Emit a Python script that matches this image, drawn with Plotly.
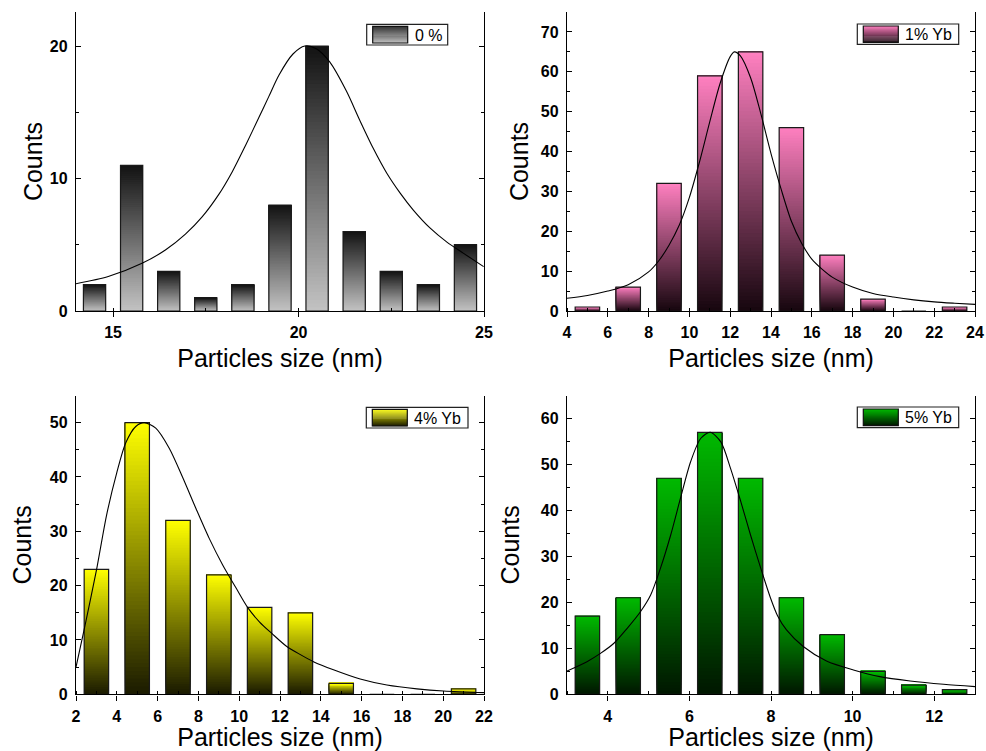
import plotly.graph_objects as go

W, H = 986, 751
FONT = "Arial, Liberation Sans, sans-serif"

# ---------------- data ----------------
labels = ["0 %", "1% Yb", "4% Yb", "5% Yb"]

size_0 = [14.5, 15.5, 16.5, 17.5, 18.5, 19.5, 20.5, 21.5, 22.5, 23.5, 24.5]
counts_0 = [2, 11, 3, 1, 2, 8, 20, 6, 3, 2, 5]
fit_x_0 = [13.97, 14.87, 15.78, 16.41, 16.95, 17.4, 17.85, 18.21, 18.57, 18.93, 19.2, 19.47,
           19.85, 20.17, 20.48, 20.84, 21.29, 21.65, 22.01, 22.38, 22.74, 23.1, 23.55, 24.0,
           24.45, 24.99]
fit_y_0 = [2.04, 2.6, 3.6, 4.6, 5.8, 7.1, 8.8, 10.5, 12.5, 14.6, 16.2, 17.8,
           19.4, 20.0, 19.8, 18.8, 16.6, 14.4, 12.3, 10.4, 8.9, 7.6, 6.25, 5.2,
           4.35, 3.35]

size_1 = [5, 7, 9, 11, 13, 15, 17, 19, 21, 23]
counts_1 = [1, 6, 32, 59, 65, 46, 14, 3, 0, 1]
fit_x_1 = [4.0, 5.0, 6.0, 7.0, 8.0, 8.5, 9.0, 9.5, 10.0, 10.5, 11.0, 11.5, 12.0, 12.2,
           12.5, 13.0, 13.5, 14.0, 14.5, 15.0, 15.5, 16.0, 16.5, 17.0, 18.0, 19.0,
           20.0, 21.0, 22.0, 23.0, 24.0]
fit_y_1 = [3.2, 3.9, 5.0, 6.6, 9.8, 12.6, 16.5, 21.5, 28.5, 37.5, 47.5, 57.0, 63.8, 65.0,
           64.0, 58.5, 49.5, 39.5, 30.5, 22.5, 17.0, 13.0, 10.5, 8.5, 6.0, 4.4,
           3.5, 2.8, 2.3, 1.95, 1.65]

size_4 = [3, 5, 7, 9, 11, 13, 15, 17, 19, 21]
counts_4 = [23, 50, 32, 22, 16, 15, 2, 0, 0, 1]
fit_x_4 = [2.0, 2.41, 3.0, 3.5, 4.0, 4.44, 4.93, 5.34, 5.91, 6.57, 7.22, 7.88, 8.53, 9.19,
           9.84, 10.41, 11.0, 11.6, 12.3, 13.0, 13.64, 14.62, 15.93, 17.24, 18.71, 20.02, 22.0]
fit_y_4 = [5.0, 12.1, 22.8, 33.0, 40.8, 46.3, 49.3, 50.0, 49.0, 45.3, 40.0, 34.2, 28.7, 23.8,
           19.6, 16.0, 13.3, 11.2, 8.9, 7.3, 6.0, 4.5, 2.8, 1.7, 1.0, 0.6, 0.3]

size_5 = [3.5, 4.5, 5.5, 6.5, 7.5, 8.5, 9.5, 10.5, 11.5, 12.5]
counts_5 = [17, 21, 47, 57, 47, 21, 13, 5, 2, 1]
fit_x_5 = [3.0, 3.49, 3.82, 4.15, 4.47, 4.8, 5.05, 5.29, 5.54, 5.78, 6.03, 6.28, 6.51, 6.77,
           7.01, 7.26, 7.5, 7.75, 7.99, 8.16, 8.38, 8.79, 9.36, 10.02, 10.67, 11.41, 12.23, 13.0]
fit_y_5 = [5.07, 7.1, 8.9, 11.1, 14.3, 17.96, 21.6, 27.4, 34.6, 42.6, 50.6, 55.7, 57.0, 54.9,
           49.1, 41.9, 34.6, 27.4, 20.9, 17.1, 14.0, 10.4, 7.25, 5.3, 3.84, 2.9, 2.17, 1.67]

# ---------------- styles ----------------
panels = [
    dict(sizes=size_0, counts=counts_0, fx=fit_x_0, fy=fit_y_0, label=labels[0],
         width=0.6, xr=[14, 25], yr=[0, 22.57], xt0=15, xd=5, xminor=2.5, yd=10, yminor=5,
         top=(18, 18, 18), bot=(195, 195, 195),
         box=(76, 484, 12, 311), leg=(366.7, 447.7, 24.3, 45.0), ystand=0),
    dict(sizes=size_1, counts=counts_1, fx=fit_x_1, fy=fit_y_1, label=labels[1],
         width=1.2, xr=[4, 24], yr=[0, 75], xt0=4, xd=2, xminor=1, yd=10, yminor=5,
         top=(255, 128, 192), bot=(22, 6, 14),
         box=(567, 975, 12, 311), leg=(857.3, 958.7, 24.0, 44.3), ystand=5),
    dict(sizes=size_4, counts=counts_4, fx=fit_x_4, fy=fit_y_4, label=labels[2],
         width=1.2, xr=[2, 22], yr=[0, 55], xt0=2, xd=2, xminor=1, yd=10, yminor=5,
         top=(255, 255, 0), bot=(26, 26, 0),
         box=(76, 484, 395.5, 694.3), leg=(366.3, 468.0, 407.3, 428.0), ystand=11),
    dict(sizes=size_5, counts=counts_5, fx=fit_x_5, fy=fit_y_5, label=labels[3],
         width=0.6, xr=[3, 13], yr=[0, 65], xt0=4, xd=2, xminor=1, yd=10, yminor=5,
         top=(0, 186, 0), bot=(0, 22, 0),
         box=(567, 975, 395.5, 694.3), leg=(857.3, 958.7, 407.0, 427.7), ystand=14),
]


def mix(top, bot, f):
    return "rgb({},{},{})".format(*[round(b + (t - b) * f) for t, b in zip(top, bot)])


def px(x):
    return x / W


def py(y):
    return 1 - y / H


fig = go.Figure()
layout = dict(
    width=W, height=H, margin=dict(l=0, r=0, t=0, b=0, autoexpand=False),
    paper_bgcolor="white", plot_bgcolor="white", showlegend=False,
    barmode="overlay", font=dict(family=FONT, color="black"),
)
shapes, annotations = [], []
NSEG = 70

for i, p in enumerate(panels):
    n = "" if i == 0 else str(i + 1)
    xa, ya = "x" + n, "y" + n

    # gradient fill built from stacked bar segments
    xs, bases, ys, cols = [], [], [], []
    for k in range(NSEG):
        f = (k + 0.5) / NSEG
        c = mix(p["top"], p["bot"], f)
        for s, v in zip(p["sizes"], p["counts"]):
            xs.append(s)
            bases.append(v * k / NSEG)
            ys.append(v * (1 - k / NSEG))
            cols.append(c)
    fig.add_trace(go.Bar(x=xs, y=ys, base=bases, width=p["width"],
                         marker=dict(color=cols, line=dict(width=0)),
                         xaxis=xa, yaxis=ya, hoverinfo="skip", showlegend=False))
    # bar outlines
    fig.add_trace(go.Bar(x=p["sizes"], y=p["counts"], width=p["width"], name=p["label"],
                         marker=dict(color="rgba(0,0,0,0)", line=dict(color="#1a1a1a", width=1.2)),
                         xaxis=xa, yaxis=ya, showlegend=False))
    # fit curve
    fig.add_trace(go.Scatter(x=p["fx"], y=p["fy"], mode="lines",
                             line=dict(color="black", width=1.1, shape="spline", smoothing=0.8),
                             xaxis=xa, yaxis=ya, showlegend=False, hoverinfo="skip"))

    x0, x1, y0, y1 = p["box"]
    tickfont = dict(family=FONT, size=16, color="black", weight="bold")
    layout["xaxis" + n] = dict(
        domain=[px(x0), px(x1)], anchor=ya, range=p["xr"], tick0=p["xt0"], dtick=p["xd"],
        ticks="outside", ticklen=5, tickwidth=1.3, tickcolor="black", automargin=False,
        showline=True, linecolor="black", linewidth=1.4, mirror=False,
        showgrid=False, zeroline=False, tickfont=tickfont, ticklabelstandoff=2,
        minor=dict(tick0=p["xt0"], dtick=p["xminor"], ticks="inside", ticklen=3,
                   tickwidth=1, tickcolor="black", showgrid=False),
        title=dict(text="Particles size (nm)", standoff=9,
                   font=dict(family=FONT, size=25, color="black")),
    )
    layout["yaxis" + n] = dict(
        domain=[py(y1), py(y0)], anchor=xa, range=p["yr"], tick0=0, dtick=p["yd"],
        ticks="inside", ticklen=5, tickwidth=1.3, tickcolor="black", automargin=False,
        showline=True, linecolor="black", linewidth=1.4, mirror="allticks",
        showgrid=False, zeroline=False, tickfont=tickfont, ticklabelstandoff=4,
        minor=dict(tick0=0, dtick=p["yminor"], ticks="inside", ticklen=3,
                   tickwidth=1, tickcolor="black", showgrid=False),
        title=dict(text="Counts", standoff=p["ystand"],
                   font=dict(family=FONT, size=25, color="black")),
    )
    # top axis with inward ticks
    layout["xaxis" + str(i + 5)] = dict(
        overlaying=xa, anchor=ya, side="top", range=p["xr"], tick0=p["xt0"], dtick=p["xd"],
        ticks="inside", ticklen=5, tickwidth=1.3, tickcolor="black", showticklabels=False,
        showline=True, linecolor="black", linewidth=1.4, showgrid=False, zeroline=False,
        automargin=False,
        minor=dict(tick0=p["xt0"], dtick=p["xminor"], ticks="inside", ticklen=3,
                   tickwidth=1, tickcolor="black", showgrid=False),
    )

    # legend box (drawn as shapes + text)
    lx0, lx1, ly0, ly1 = p["leg"]
    shapes.append(dict(type="rect", xref="paper", yref="paper", x0=px(lx0), x1=px(lx1),
                       y0=py(ly1), y1=py(ly0), line=dict(color="#222", width=1.2),
                       fillcolor="white", layer="above"))
    sx0, sx1 = lx0 + 6, lx0 + 41
    sy0, sy1 = ly0 + 2, ly1 - 2
    nst = 17
    for k in range(nst):
        f = 1 - (k + 0.5) / nst
        shapes.append(dict(type="rect", xref="paper", yref="paper",
                           x0=px(sx0), x1=px(sx1),
                           y0=py(sy0 + (k + 1) * (sy1 - sy0) / nst + 0.3),
                           y1=py(sy0 + k * (sy1 - sy0) / nst),
                           line=dict(width=0), fillcolor=mix(p["top"], p["bot"], f), layer="above"))
    shapes.append(dict(type="rect", xref="paper", yref="paper", x0=px(sx0), x1=px(sx1),
                       y0=py(sy1), y1=py(sy0), line=dict(color="#111", width=1.2),
                       fillcolor="rgba(0,0,0,0)", layer="above"))
    annotations.append(dict(text=p["label"], xref="paper", yref="paper",
                            x=px(sx1 + 5), y=py((ly0 + ly1) / 2 + 0.5), xanchor="left",
                            yanchor="middle", showarrow=False,
                            font=dict(family=FONT, size=16, color="black")))

layout["shapes"] = shapes
layout["annotations"] = annotations
fig.update_layout(**layout)
fig.write_html("out.html", config={"displayModeBar": False},
               post_script="document.body.style.margin='0px';document.body.style.overflow='hidden';")
